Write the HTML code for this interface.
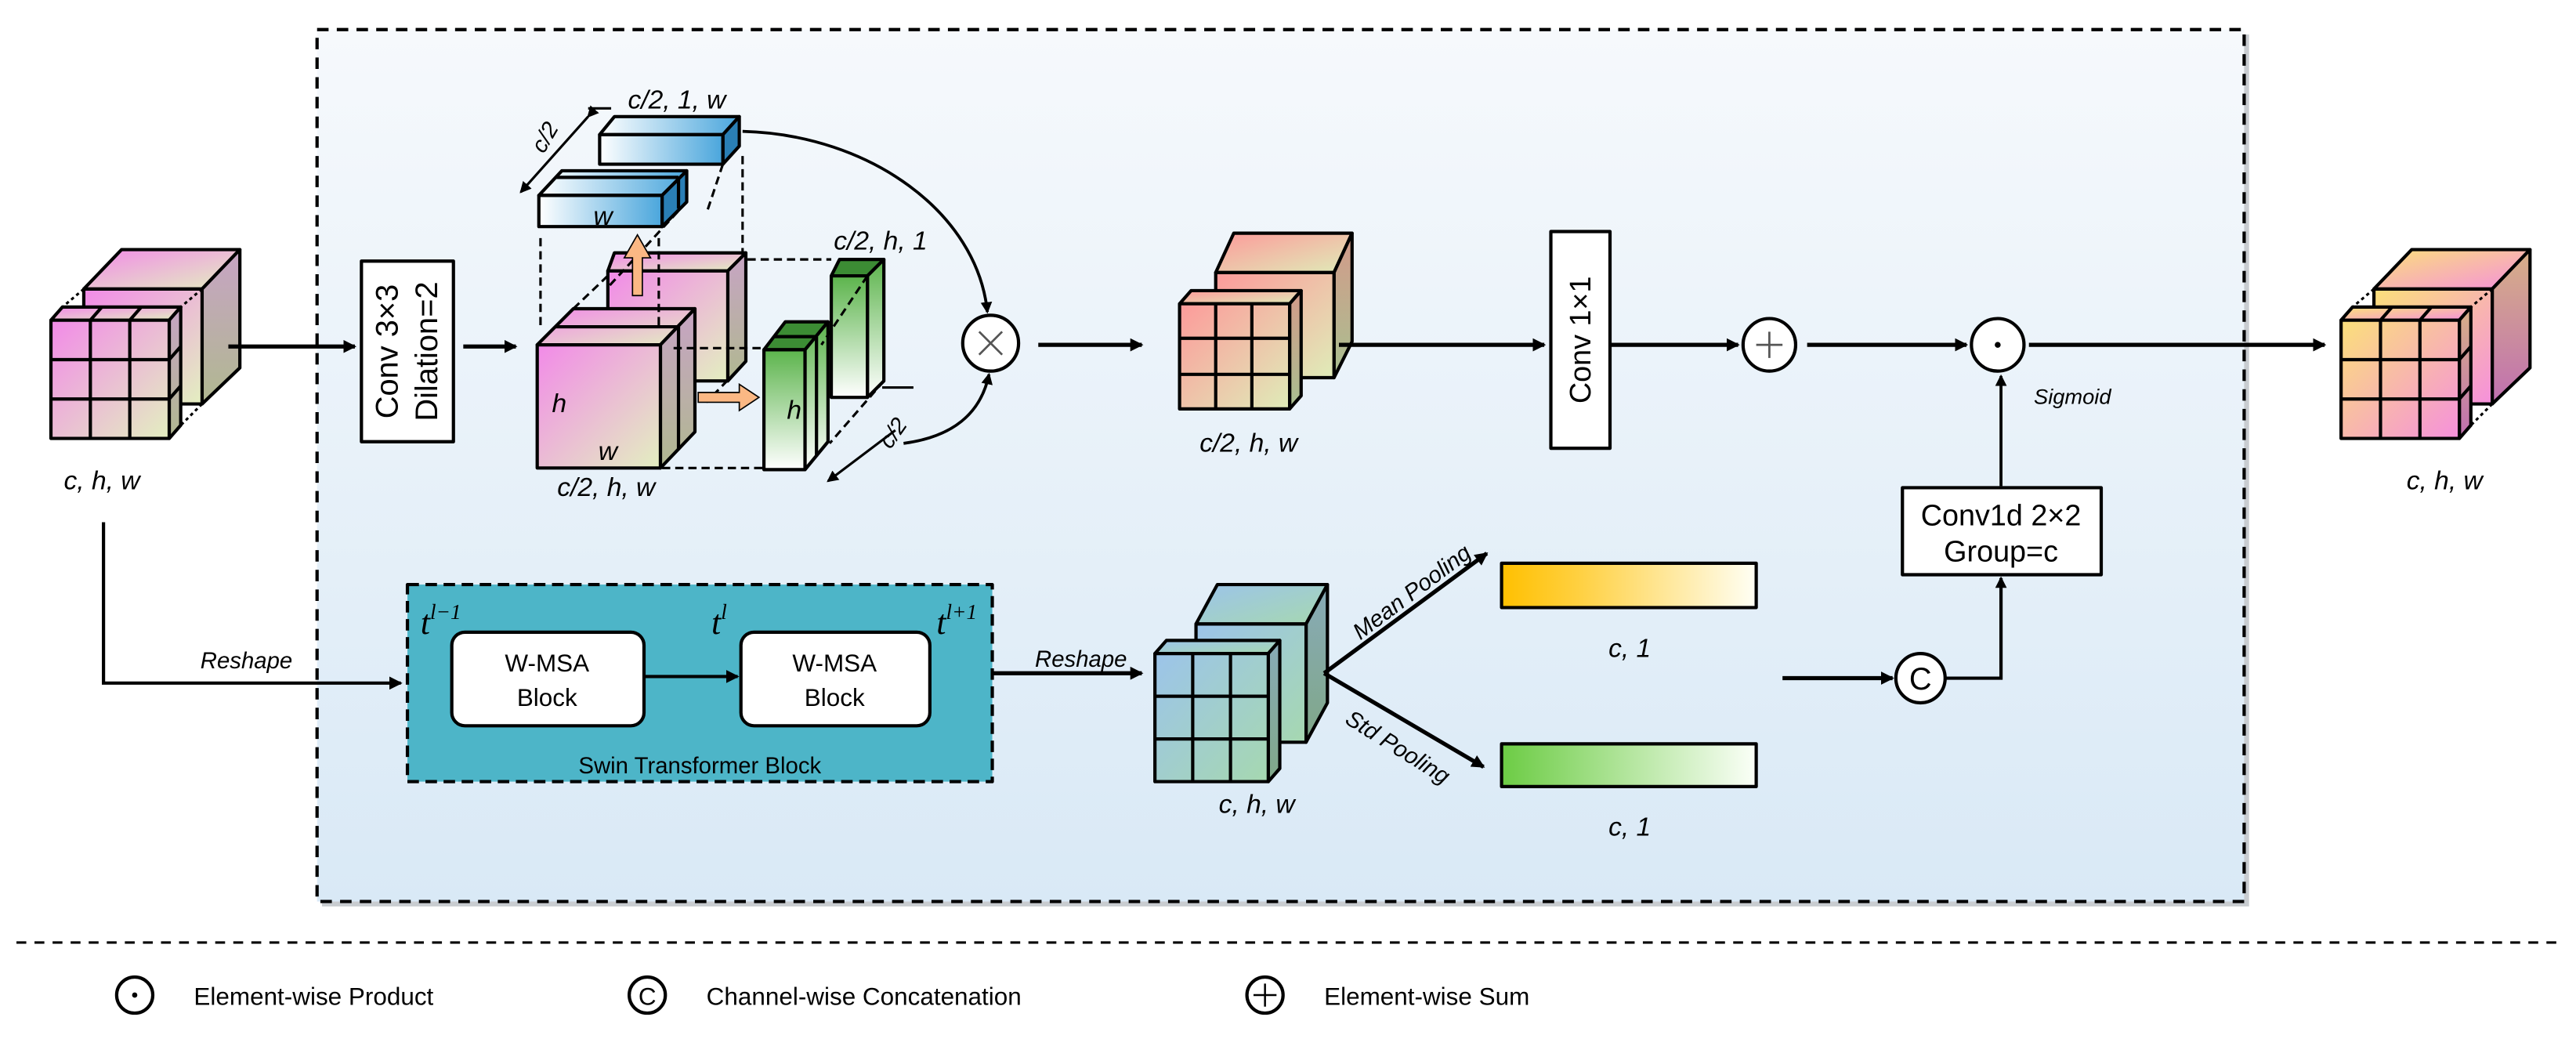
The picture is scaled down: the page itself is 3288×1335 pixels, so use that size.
<!DOCTYPE html>
<html><head><meta charset="utf-8"><style>html,body{margin:0;padding:0;background:#fff}svg{display:block}</style></head>
<body>
<svg width="3288" height="1335" viewBox="0 0 1568 637" preserveAspectRatio="none" xmlns="http://www.w3.org/2000/svg" font-family="Liberation Sans, Arial, sans-serif">
<defs>
<linearGradient id="bg" x1="0" y1="0" x2="0" y2="1"><stop offset="0" stop-color="#f6f9fc"/><stop offset="1" stop-color="#d9e9f6"/></linearGradient>
<linearGradient id="pink" x1="0" y1="0" x2="1" y2="1"><stop offset="0" stop-color="#f28ae8"/><stop offset="1" stop-color="#e3efc0"/></linearGradient>
<linearGradient id="pinkR" x1="0" y1="0" x2="0" y2="1"><stop offset="0" stop-color="#c7a4c4"/><stop offset="1" stop-color="#b0b890"/></linearGradient>
<linearGradient id="sal" x1="0" y1="0" x2="1" y2="1"><stop offset="0" stop-color="#fd9a9a"/><stop offset="1" stop-color="#dfecb8"/></linearGradient>
<linearGradient id="salR" x1="0" y1="0" x2="0" y2="1"><stop offset="0" stop-color="#d49a8a"/><stop offset="1" stop-color="#a8c090"/></linearGradient>
<linearGradient id="yel" x1="0" y1="0" x2="1" y2="1"><stop offset="0" stop-color="#fbe07a"/><stop offset="1" stop-color="#f590dc"/></linearGradient>
<linearGradient id="yelR" x1="0" y1="0" x2="0" y2="1"><stop offset="0" stop-color="#d8b088"/><stop offset="1" stop-color="#c070b0"/></linearGradient>
<linearGradient id="teal" x1="0" y1="0" x2="1" y2="1"><stop offset="0" stop-color="#9cc4ea"/><stop offset="1" stop-color="#a6d8b0"/></linearGradient>
<linearGradient id="tealR" x1="0" y1="0" x2="0" y2="1"><stop offset="0" stop-color="#88aab8"/><stop offset="1" stop-color="#80a888"/></linearGradient>
<linearGradient id="blue" x1="0" y1="0" x2="1" y2="0"><stop offset="0" stop-color="#ffffff"/><stop offset="1" stop-color="#4aa6dc"/></linearGradient>
<linearGradient id="green" x1="0" y1="0" x2="0" y2="1"><stop offset="0" stop-color="#5cb44c"/><stop offset="1" stop-color="#ffffff"/></linearGradient>
<linearGradient id="ybar" x1="0" y1="0" x2="1" y2="0"><stop offset="0" stop-color="#ffc000"/><stop offset="0.3" stop-color="#ffd040"/><stop offset="1" stop-color="#fffff5"/></linearGradient>
<linearGradient id="gbar" x1="0" y1="0" x2="1" y2="0"><stop offset="0" stop-color="#6ccc44"/><stop offset="1" stop-color="#fbfff8"/></linearGradient>
<marker id="ah" markerWidth="8" markerHeight="8" refX="7" refY="4" orient="auto" markerUnits="userSpaceOnUse"><path d="M0,0 L8,4 L0,8 z" fill="#000"/></marker>
<marker id="ahs" markerWidth="7" markerHeight="7" refX="6" refY="3.5" orient="auto" markerUnits="userSpaceOnUse"><path d="M0,0 L7,3.5 L0,7 z" fill="#000"/></marker>
</defs>

<rect x="196" y="21" width="1173" height="531" fill="#c8ccd0"/>
<rect x="193" y="18" width="1173" height="531" fill="url(#bg)" stroke="#000" stroke-width="2" stroke-dasharray="7,5"/>
<line x1="10" y1="574" x2="1558" y2="574" stroke="#000" stroke-width="1.5" stroke-dasharray="6,5"/>

<circle cx="82" cy="606" r="11" fill="#fff" stroke="#000" stroke-width="2"/><circle cx="82" cy="606" r="1.6"/>
<text x="118" y="612" font-size="15">Element-wise Product</text>
<circle cx="394" cy="606" r="11" fill="#fff" stroke="#000" stroke-width="2"/><text x="394" y="612" font-size="15" text-anchor="middle">C</text>
<text x="430" y="612" font-size="15">Channel-wise Concatenation</text>
<circle cx="770" cy="606" r="11" fill="#fff" stroke="#000" stroke-width="2"/><path d="M763,606h14M770,599v14" stroke="#000" stroke-width="1.2"/>
<text x="806" y="612" font-size="15">Element-wise Sum</text>

<g stroke="#000" stroke-width="2" stroke-linejoin="round">
<polygon points="51,176 74,152 146,152 123,176" fill="url(#pink)"/>
<polygon points="123,176 146,152 146,224 123,246" fill="url(#pinkR)"/>
<rect x="51" y="176" width="72" height="70" fill="url(#pink)"/>
<polygon points="31,195 38,187 110,187 103,195" fill="url(#pink)"/>
<polygon points="103,195 110,187 110,259 103,267" fill="url(#pinkR)"/>
<rect x="31" y="195" width="72" height="72" fill="url(#pink)"/>
<path d="M55,195v72M79,195v72M31,219h72M31,243h72M55,195l7,-8M79,195l7,-8M103,219l7,-8M103,243l7,-8" fill="none"/>

<polygon points="1445,176 1468,152 1540,152 1517,176" fill="url(#yel)"/>
<polygon points="1517,176 1540,152 1540,224 1517,246" fill="url(#yelR)"/>
<rect x="1445" y="176" width="72" height="70" fill="url(#yel)"/>
<polygon points="1425,195 1432,187 1504,187 1497,195" fill="url(#yel)"/>
<polygon points="1497,195 1504,187 1504,259 1497,267" fill="url(#yelR)"/>
<rect x="1425" y="195" width="72" height="72" fill="url(#yel)"/>
<path d="M1449,195v72M1473,195v72M1425,219h72M1425,243h72M1449,195l7,-8M1473,195l7,-8M1497,219l7,-8M1497,243l7,-8" fill="none"/>

<polygon points="740,166 751,142 823,142 812,166" fill="url(#sal)"/>
<polygon points="812,166 823,142 823,208 812,230" fill="url(#salR)"/>
<rect x="740" y="166" width="72" height="64" fill="url(#sal)"/>
<polygon points="718,185 725,177 792,177 785,185" fill="url(#sal)"/>
<polygon points="785,185 792,177 792,241 785,249" fill="url(#salR)"/>
<rect x="718" y="185" width="67" height="64" fill="url(#sal)"/>
<path d="M740,185v64M762,185v64M718,206h67M718,228h67" fill="none"/>

<polygon points="728,380 741,356 808,356 795,380" fill="url(#teal)"/>
<polygon points="795,380 808,356 808,428 795,452" fill="url(#tealR)"/>
<rect x="728" y="380" width="67" height="72" fill="url(#teal)"/>
<polygon points="703,398 710,390 779,390 772,398" fill="url(#teal)"/>
<polygon points="772,398 779,390 779,468 772,476" fill="url(#tealR)"/>
<rect x="703" y="398" width="69" height="78" fill="url(#teal)"/>
<path d="M726,398v78M749,398v78M703,424h69M703,450h69" fill="none"/>

<polygon points="370,165 374,154 454,154 443,165" fill="url(#pink)"/>
<polygon points="443,165 454,154 454,220 443,232" fill="url(#pinkR)"/>
<rect x="370" y="165" width="73" height="67" fill="url(#pink)"/>
<polygon points="327,210 349,188 423,188 402,210" fill="url(#pink)"/>
<polygon points="402,210 423,188 423,263 402,285" fill="url(#pinkR)"/>
<line x1="338" y1="199" x2="413" y2="199"/><line x1="413" y1="199" x2="413" y2="274"/>
<rect x="327" y="210" width="75" height="75" fill="url(#pink)"/>

<polygon points="365,82 374,71 450,71 440,82" fill="url(#blue)"/>
<polygon points="440,82 450,71 450,89 440,100" fill="#2a7fb5"/>
<rect x="365" y="82" width="75" height="18" fill="url(#blue)"/>
<polygon points="328,119 342,104 418,104 403,119" fill="url(#blue)"/>
<polygon points="403,119 418,104 418,123 403,138" fill="#2a7fb5"/>
<line x1="338" y1="108" x2="413" y2="108"/><line x1="413" y1="108" x2="413" y2="127"/>
<rect x="328" y="119" width="75" height="19" fill="url(#blue)"/>

<polygon points="506,168 511,158 538,158 528,168" fill="#3c8c34"/>
<polygon points="528,168 538,158 538,232 528,242" fill="url(#green)"/>
<rect x="506" y="168" width="22" height="74" fill="url(#green)"/>
<polygon points="465,213 478,196 504,196 490,213" fill="#3c8c34"/>
<polygon points="490,213 504,196 504,269 490,286" fill="url(#green)"/>
<line x1="471" y1="205" x2="497" y2="205"/><line x1="497" y1="205" x2="497" y2="278"/>
<rect x="465" y="213" width="25" height="73" fill="url(#green)"/>

<rect x="220" y="159" width="56" height="110" fill="#fff"/>
<rect x="944" y="141" width="36" height="132" fill="#fff"/>
<rect x="1158" y="297" width="121" height="53" fill="#fff"/>
<rect x="248" y="356" width="356" height="120" fill="#4db5c8" stroke-dasharray="7,4"/>
<rect x="275" y="385" width="117" height="57" rx="8" fill="#fff"/>
<rect x="451" y="385" width="115" height="57" rx="8" fill="#fff"/>
<rect x="914" y="343" width="155" height="27" fill="url(#ybar)"/>
<rect x="914" y="453" width="155" height="26" fill="url(#gbar)"/>

<circle cx="603" cy="209" r="17" fill="#fff"/>
<circle cx="1077" cy="210" r="16" fill="#fff"/>
<circle cx="1216" cy="210" r="16" fill="#fff"/>
<circle cx="1169" cy="413" r="15" fill="#fff"/>
</g>

<g stroke="#000" stroke-width="1.5" fill="none" stroke-dasharray="2,2">
<path d="M51,176L38,187M123,176L110,187M123,246L110,259"/>
<path d="M1445,176L1432,187M1517,176L1504,187M1517,246L1504,259"/>
</g>
<g stroke="#000" stroke-width="1.5" fill="none" stroke-dasharray="5,3">
<path d="M329,145V200M401,145V200M452,95V155M418,123L370,175M440,100L430,130M455,158H506M410,212H465M403,285H465M454,220L430,245M528,168L500,210M538,232L505,270M349,188L372,166"/>
</g>

<g stroke="#000" stroke-width="2.5" fill="none">
<path d="M139,211H216" marker-end="url(#ah)"/>
<path d="M282,211H314" marker-end="url(#ah)"/>
<path d="M632,210H695" marker-end="url(#ah)"/>
<path d="M815,210H940" marker-end="url(#ah)"/>
<path d="M980,210H1058" marker-end="url(#ah)"/>
<path d="M1100,210H1197" marker-end="url(#ah)"/>
<path d="M1235,210H1415" marker-end="url(#ah)"/>
<path d="M1085,413H1152" marker-end="url(#ah)"/>
<path d="M604,410H695" marker-end="url(#ah)"/>
<path d="M806,410L905,337" marker-end="url(#ah)"/>
<path d="M806,410L903,467" marker-end="url(#ah)"/>
<path d="M63,318V416H244" stroke-width="2" marker-end="url(#ah)"/>
<path d="M392,412H449" stroke-width="2" marker-end="url(#ah)"/>
<path d="M1184,413H1218V352" stroke-width="2" marker-end="url(#ahs)"/>
<path d="M1218,296V229" stroke-width="1.8" marker-end="url(#ahs)"/>
<path d="M452,80C530,82 595,130 601,190" stroke-width="1.8" marker-end="url(#ahs)"/>
<path d="M550,270C580,266 597,252 602,228" stroke-width="1.8" marker-end="url(#ahs)"/>
<path d="M358,71L317,117" stroke-width="1.5" marker-end="url(#ahs)" marker-start="url(#ahs)"/>
<path d="M545,262L504,293" stroke-width="1.5" marker-end="url(#ahs)"/>
<path d="M358,66H372M537,236H556" stroke-width="1.5"/>
</g>
<polygon points="385,180 385,157 380,157 388,143 396,157 391,157 391,180" fill="#fbb884" stroke="#000" stroke-width="0.8"/>
<polygon points="425,239 450,239 450,234 462,242 450,250 450,245 425,245" fill="#fbb884" stroke="#000" stroke-width="0.8"/>

<path d="M596,202l14,14M610,202l-14,14" stroke="#555" stroke-width="1.3"/>
<path d="M1069,210h16M1077,202v16" stroke="#555" stroke-width="1.3"/>
<circle cx="1216" cy="210" r="1.8"/>
<text x="1169" y="420" font-size="19" text-anchor="middle">C</text>

<g font-style="italic" font-size="16">
<text x="62" y="298" text-anchor="middle">c, h, w</text>
<text x="1488" y="298" text-anchor="middle">c, h, w</text>
<text x="760" y="275" text-anchor="middle">c/2, h, w</text>
<text x="369" y="302" text-anchor="middle">c/2, h, w</text>
<text x="412" y="66" text-anchor="middle">c/2, 1, w</text>
<text x="536" y="152" text-anchor="middle">c/2, h, 1</text>
<text x="367" y="137" text-anchor="middle">w</text>
<text x="336" y="251">h</text>
<text x="370" y="280" text-anchor="middle">w</text>
<text x="479" y="255">h</text>
<text x="765" y="495" text-anchor="middle">c, h, w</text>
<text x="992" y="400" text-anchor="middle">c, 1</text>
<text x="992" y="509" text-anchor="middle">c, 1</text>
<text x="150" y="407" text-anchor="middle" font-size="14">Reshape</text>
<text x="658" y="406" text-anchor="middle" font-size="14">Reshape</text>
<text x="1238" y="246" font-size="13">Sigmoid</text>
<text transform="translate(828,390) rotate(-37)" font-size="14">Mean Pooling</text>
<text transform="translate(818,440) rotate(32)" font-size="14">Std Pooling</text>
<text transform="translate(331,94) rotate(-60)" font-size="14">c/2</text>
<text transform="translate(542,274) rotate(-55)" font-size="14">c/2</text>
</g>
<g font-family="Liberation Serif, serif" font-style="italic" font-size="21">
<text x="256" y="386">t<tspan font-size="13" dy="-9">l−1</tspan></text>
<text x="433" y="386">t<tspan font-size="13" dy="-9">l</tspan></text>
<text x="570" y="386">t<tspan font-size="13" dy="-9">l+1</tspan></text>
</g>
<text x="333" y="409" font-size="15" text-anchor="middle">W-MSA</text>
<text x="333" y="430" font-size="15" text-anchor="middle">Block</text>
<text x="508" y="409" font-size="15" text-anchor="middle">W-MSA</text>
<text x="508" y="430" font-size="15" text-anchor="middle">Block</text>
<text x="426" y="471" font-size="14" text-anchor="middle">Swin Transformer Block</text>
<text transform="translate(242,214) rotate(-90)" font-size="19" text-anchor="middle">Conv 3×3</text>
<text transform="translate(266,214) rotate(-90)" font-size="19" text-anchor="middle">Dilation=2</text>
<text transform="translate(968,207) rotate(-90)" font-size="18" text-anchor="middle">Conv 1×1</text>
<text x="1218" y="320" font-size="18" text-anchor="middle">Conv1d 2×2</text>
<text x="1218" y="342" font-size="18" text-anchor="middle">Group=c</text>
</svg>
</body></html>
